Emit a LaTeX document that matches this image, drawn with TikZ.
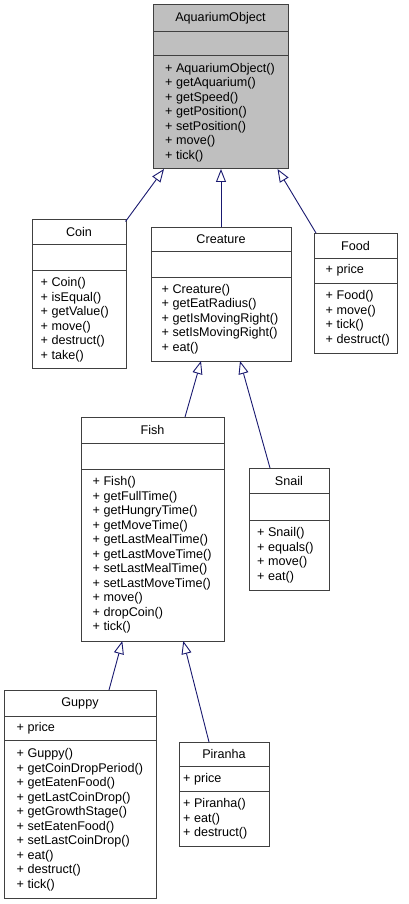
\documentclass[tikz,border=0pt]{standalone}
\usepackage{fontspec}
\setmainfont{Liberation Sans}
\usetikzlibrary{arrows.meta,calc}
\definecolor{edgeblue}{RGB}{25,25,112}
\definecolor{boxgray}{RGB}{191,191,191}
\definecolor{boxline}{RGB}{64,64,64}

\begin{document}
\begin{tikzpicture}[x=1pt,y=-1pt,
  box/.style={draw=boxline, line width=1pt, anchor=north west, inner sep=0pt, outer sep=0pt},
  sepline/.style={draw=boxline, line width=1pt},
  title/.style={inner sep=0pt, font=\fontsize{12.6}{14.5}\selectfont},
  members/.style={anchor=west, inner sep=0pt, align=left, font=\fontsize{12.6}{14.5}\selectfont},
  inh/.style={draw=edgeblue, line width=0.9pt, -{Triangle[open, length=13pt, width=10pt]}}]

\useasboundingbox[fill=white] (0,0) rectangle (409,904);

% ---- AquariumObject (base class, shaded) ----
\node[box, fill=boxgray, minimum width=135pt, minimum height=164pt] (ao) at (153,5) {};
\draw[sepline] (153,31.7) -- (288,31.7);
\draw[sepline] (153,56) -- (288,56);
\node[title] (ao-t) at (220.5,18.3) {AquariumObject};
\node[members] (ao-m) at (165,112.5) {+ AquariumObject()\\+ getAquarium()\\+ getSpeed()\\+ getPosition()\\+ setPosition()\\+ move()\\+ tick()};

% ---- Coin ----
\node[box, minimum width=94pt, minimum height=149pt] (coin) at (32,219.5) {};
\draw[sepline] (32,244.5) -- (126,244.5);
\draw[sepline] (32,270.5) -- (126,270.5);
\node[title] (coin-t) at (79,232) {Coin};
\node[members] (coin-m) at (40.5,319.5) {+ Coin()\\+ isEqual()\\+ getValue()\\+ move()\\+ destruct()\\+ take()};

% ---- Creature ----
\node[box, minimum width=140pt, minimum height=134pt] (creature) at (151,227) {};
\draw[sepline] (151,251) -- (291,251);
\draw[sepline] (151,277) -- (291,277);
\node[title] (creature-t) at (221,239) {Creature};
\node[members] (creature-m) at (161.5,319) {+ Creature()\\+ getEatRadius()\\+ getIsMovingRight()\\+ setIsMovingRight()\\+ eat()};

% ---- Food ----
\node[box, minimum width=83pt, minimum height=120pt] (food) at (314,233) {};
\draw[sepline] (314,258) -- (397,258);
\draw[sepline] (314,283) -- (397,283);
\node[title] (food-t) at (355.5,245.5) {Food};
\node[members] (food-a) at (325.5,270.5) {+ price};
\node[members] (food-m) at (325.5,318) {+ Food()\\+ move()\\+ tick()\\+ destruct()};

% ---- Fish ----
\node[box, minimum width=143pt, minimum height=224pt] (fish) at (81,417) {};
\draw[sepline] (81,443.3) -- (224,443.3);
\draw[sepline] (81,469.3) -- (224,469.3);
\node[title] (fish-t) at (152.5,430.3) {Fish};
\node[members] (fish-m) at (92.5,555) {+ Fish()\\+ getFullTime()\\+ getHungryTime()\\+ getMoveTime()\\+ getLastMealTime()\\+ getLastMoveTime()\\+ setLastMealTime()\\+ setLastMoveTime()\\+ move()\\+ dropCoin()\\+ tick()};

% ---- Snail ----
\node[box, minimum width=80pt, minimum height=122pt] (snail) at (249,468) {};
\draw[sepline] (249,493.5) -- (329,493.5);
\draw[sepline] (249,520) -- (329,520);
\node[title] (snail-t) at (289,480.8) {Snail};
\node[members] (snail-m) at (257,555) {+ Snail()\\+ equals()\\+ move()\\+ eat()};

% ---- Guppy ----
\node[box, minimum width=152pt, minimum height=208pt] (guppy) at (4,690) {};
\draw[sepline] (4,716.7) -- (156,716.7);
\draw[sepline] (4,740.7) -- (156,740.7);
\node[title] (guppy-t) at (80,703.3) {Guppy};
\node[members] (guppy-a) at (16.5,728.7) {+ price};
\node[members] (guppy-m) at (16.5,819.5) {+ Guppy()\\+ getCoinDropPeriod()\\+ getEatenFood()\\+ getLastCoinDrop()\\+ getGrowthStage()\\+ setEatenFood()\\+ setLastCoinDrop()\\+ eat()\\+ destruct()\\+ tick()};

% ---- Piranha ----
\node[box, minimum width=90pt, minimum height=104pt] (piranha) at (179,742) {};
\draw[sepline] (179,766.7) -- (269,766.7);
\draw[sepline] (179,791.7) -- (269,791.7);
\node[title] (piranha-t) at (224,754.3) {Piranha};
\node[members] (piranha-a) at (183,779.2) {+ price};
\node[members] (piranha-m) at (183,818.8) {+ Piranha()\\+ eat()\\+ destruct()};

% ---- inheritance edges ----
\draw[inh] ($(coin.north east)+(-0.5,2)$) -- ($(ao.south west)+(11,0)$);
\draw[inh] (creature.north) -- (creature.north |- ao.south);
\draw[inh] ($(food.north west)+(2,0)$) -- ($(ao.south east)+(-10.5,0)$);
\draw[inh] ($(fish.north west)+(104,0)$) -- ($(creature.south west)+(50,0)$);
\draw[inh] ($(snail.north west)+(21,0)$) -- ($(creature.south west)+(89,0)$);
\draw[inh] ($(guppy.north west)+(105,0)$) -- ($(fish.south west)+(41.3,0)$);
\draw[inh] ($(piranha.north west)+(30,0)$) -- ($(fish.south west)+(102.3,0)$);
\end{tikzpicture}
\end{document}
